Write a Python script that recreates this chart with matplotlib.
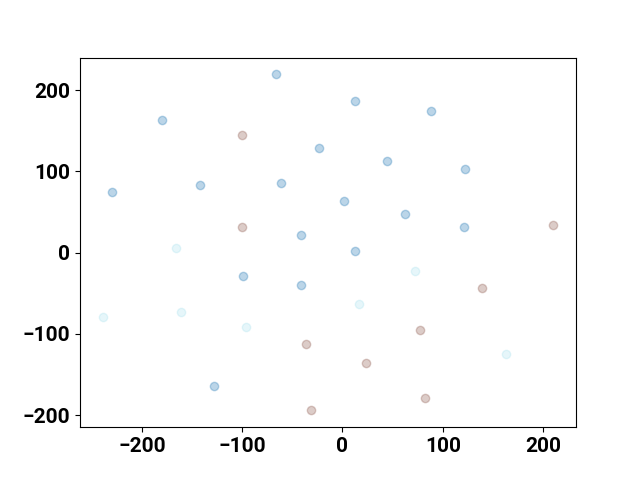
import numpy as np
import matplotlib
matplotlib.use("Agg")
import matplotlib.pyplot as plt

plt.rcParams["font.family"] = ["Roboto", "DejaVu Sans"]
plt.rcParams["font.weight"] = "bold"

# group A (blue)
blue_x = [-66.8, 12.7, 88.7, -180.5, -23.2, 44.3, 122.0, -229.9, -142.6,
          -61.8, 1.7, 62.5, 121.6, -41.2, 12.7, -99.7, -41.2, -128.6]
blue_y = [219.2, 186.7, 174.0, 163.3, 128.4, 112.8, 103.4, 75.1, 82.9,
          85.0, 63.5, 48.0, 31.5, 21.7, 2.5, -29.2, -40.3, -163.8]

# group B (brown)
brown_x = [-100.3, -100.3, 210.4, 139.0, 77.2, -36.2, 23.6, 82.5, -31.2]
brown_y = [144.8, 31.5, 33.6, -43.1, -94.8, -112.6, -135.5, -179.4, -194.2]

# group C (cyan)
cyan_x = [-166.1, 72.5, 16.0, -239.3, -161.5, -96.3, 162.9]
cyan_y = [5.7, -22.7, -63.7, -79.7, -73.5, -91.6, -124.9]

fig, ax = plt.subplots(figsize=(6.4, 4.8), dpi=100)

ax.scatter(blue_x, blue_y, color="tab:blue", alpha=0.3)
ax.scatter(brown_x, brown_y, color="tab:brown", alpha=0.3)
ax.scatter(cyan_x, cyan_y, color="#5bc8e0", alpha=0.15)

ax.set_xticks([-200, -100, 0, 100, 200])
ax.set_yticks([-200, -100, 0, 100, 200])
ax.tick_params(labelsize=15)
for lab in ax.get_xticklabels() + ax.get_yticklabels():
    lab.set_fontweight("bold")

plt.savefig("out.png", dpi=100)
